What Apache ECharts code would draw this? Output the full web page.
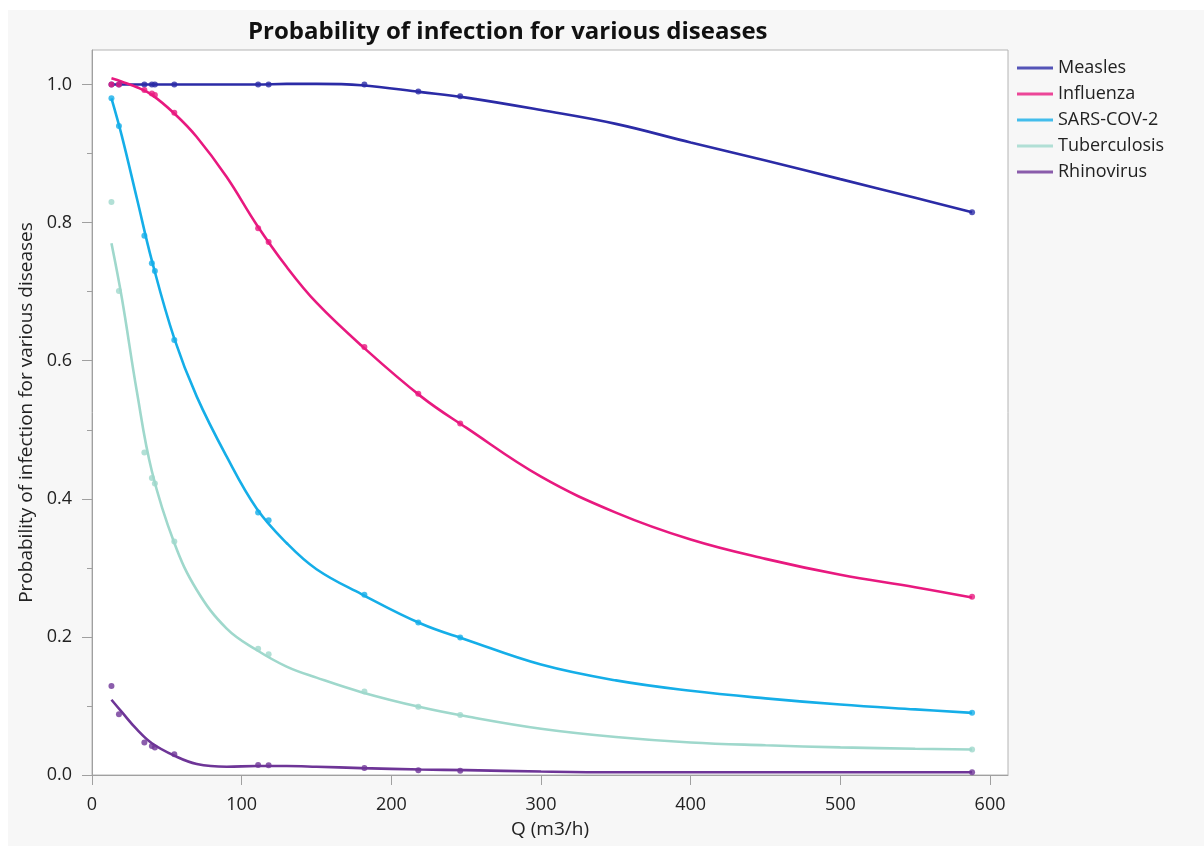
<!DOCTYPE html>
<html>
<head>
<meta charset="utf-8">
<script src="https://cdn.jsdelivr.net/npm/echarts@6/dist/echarts.min.js"></script>
<style>
html,body{margin:0;padding:0;background:#fff;}
#chart{width:1204px;height:846px;}
</style>
</head>
<body>
<div id="chart"></div>
<script>
// ---------- DATA ----------
const seriesNames = ['Measles', 'Influenza', 'SARS-COV-2', 'Tuberculosis', 'Rhinovirus'];
const seriesColors = ['#2b2ba6', '#e8197f', '#15aee8', '#9fd8cc', '#6e3597'];

// observed points
const qPoints = [13, 18, 35, 40, 42, 55, 111, 118, 182, 218, 246, 588];
const measlesPts      = [1.0, 1.0, 1.0, 1.0, 1.0, 1.0, 1.0, 1.0, 1.0, 0.990, 0.983, 0.815];
const influenzaPts    = [1.0, 1.0, 0.992, 0.987, 0.985, 0.959, 0.792, 0.772, 0.620, 0.552, 0.509, 0.258];
const sarsPts         = [0.980, 0.940, 0.781, 0.741, 0.730, 0.630, 0.380, 0.369, 0.261, 0.221, 0.199, 0.090];
const tuberculosisPts = [0.830, 0.701, 0.467, 0.430, 0.422, 0.338, 0.183, 0.175, 0.121, 0.099, 0.087, 0.037];
const rhinovirusPts   = [0.129, 0.088, 0.047, 0.042, 0.040, 0.030, 0.0145, 0.014, 0.010, 0.007, 0.006, 0.004];

// fitted curves
const qCurve = [13, 20, 30, 40, 55, 70, 90, 110, 130, 150, 180, 220, 250, 300, 350, 400, 450, 500, 550, 588];
const measlesFit      = [1.0, 1.0, 1.0, 1.0, 1.0, 1.0, 1.0, 1.0, 1.001, 1.001, 0.999, 0.989, 0.981, 0.963, 0.943, 0.916, 0.890, 0.863, 0.836, 0.815];
const influenzaFit    = [1.009, 1.004, 0.996, 0.985, 0.958, 0.924, 0.866, 0.797, 0.736, 0.684, 0.622, 0.548, 0.503, 0.432, 0.380, 0.341, 0.313, 0.290, 0.272, 0.257];
const sarsFit         = [0.980, 0.925, 0.835, 0.745, 0.632, 0.548, 0.461, 0.386, 0.336, 0.298, 0.262, 0.219, 0.196, 0.160, 0.137, 0.122, 0.111, 0.102, 0.095, 0.090];
const tuberculosisFit = [0.770, 0.690, 0.555, 0.440, 0.336, 0.268, 0.212, 0.181, 0.157, 0.141, 0.120, 0.098, 0.085, 0.067, 0.055, 0.047, 0.043, 0.040, 0.038, 0.037];
const rhinovirusFit   = [0.109, 0.091, 0.066, 0.046, 0.028, 0.016, 0.012, 0.013, 0.013, 0.012, 0.010, 0.008, 0.007, 0.005, 0.004, 0.004, 0.004, 0.004, 0.004, 0.004];

// axis ticks
const xTicks = [0, 100, 200, 300, 400, 500, 600];
const yMajorTicks = [0, 0.2, 0.4, 0.6, 0.8, 1.0];
const yMinorTicks = [0.1, 0.3, 0.5, 0.7, 0.9];

const titleText = 'Probability of infection for various diseases';
const xAxisName = 'Q (m3/h)';
const yAxisName = 'Probability of infection for various diseases';

// ---------- CHART ----------
const pts = [measlesPts, influenzaPts, sarsPts, tuberculosisPts, rhinovirusPts];
const fits = [measlesFit, influenzaFit, sarsFit, tuberculosisFit, rhinovirusFit];
const FONT = 'Open Sans';

const series = [];
seriesNames.forEach((name, i) => {
  series.push({
    name: name,
    type: 'scatter',
    data: qPoints.map((q, k) => [q, pts[i][k]]),
    symbol: 'circle',
    symbolSize: 6,
    itemStyle: { color: seriesColors[i] },
    z: 3,
    silent: true
  });
  series.push({
    name: name,
    type: 'line',
    data: qCurve.map((q, k) => [q, fits[i][k]]),
    smooth: 0.4,
    showSymbol: false,
    lineStyle: { color: seriesColors[i], width: 2.6 },
    itemStyle: { color: seriesColors[i] },
    z: 2,
    silent: true
  });
});

const chart = echarts.init(document.getElementById('chart'), null, { renderer: 'canvas' });
chart.setOption({
  animation: false,
  backgroundColor: '#ffffff',
  graphic: [{
    type: 'rect', left: 8, top: 10, z: -10,
    shape: { width: 1196, height: 836 },
    style: { fill: '#f7f7f7' }
  }],
  title: {
    text: titleText,
    left: 243, top: 15,
    textStyle: { fontFamily: FONT, fontWeight: 'bold', fontSize: 24, color: '#111' }
  },
  legend: {
    orient: 'vertical',
    left: 1012, top: 54,
    itemWidth: 36, itemHeight: 3,
    itemGap: 8,
    icon: 'rect',
    data: seriesNames.map((n, i) => ({ name: n, itemStyle: { color: seriesColors[i] } })),
    textStyle: { fontFamily: FONT, fontSize: 18, color: '#222', lineHeight: 18 }
  },
  grid: {
    left: 92, right: 196, top: 50, bottom: 71,
    show: true, backgroundColor: '#ffffff', borderColor: '#b4b4b4', borderWidth: 1,
    containLabel: false
  },
  xAxis: {
    type: 'value', min: 0, max: 612,
    name: xAxisName, nameLocation: 'middle', nameGap: 45,
    nameTextStyle: { fontFamily: FONT, fontSize: 19, color: '#222' },
    axisLine: { show: true, lineStyle: { color: '#a0a0a0', width: 1 } },
    axisTick: { show: true, customValues: xTicks, length: 10, lineStyle: { color: '#a0a0a0' } },
    axisLabel: { customValues: xTicks, fontFamily: FONT, fontSize: 18, color: '#222', margin: 21 },
    splitLine: { show: false }
  },
  yAxis: [{
    type: 'value', min: 0, max: 1.05, position: 'left',
    name: yAxisName, nameLocation: 'middle', nameGap: 53,
    nameTextStyle: { fontFamily: FONT, fontSize: 19, color: '#222' },
    axisLine: { show: true, lineStyle: { color: '#a0a0a0', width: 1 } },
    axisTick: { show: true, customValues: yMajorTicks, length: 10, lineStyle: { color: '#a0a0a0' } },
    axisLabel: { customValues: yMajorTicks, formatter: v => v.toFixed(1), fontFamily: FONT, fontSize: 18, color: '#222', margin: 20 },
    splitLine: { show: false }
  }, {
    type: 'value', min: 0, max: 1.05, position: 'left', offset: 0,
    axisLine: { show: false },
    axisTick: { show: true, customValues: yMinorTicks, length: 5, lineStyle: { color: '#a0a0a0' } },
    axisLabel: { show: false },
    splitLine: { show: false }
  }],
  series: series
});
</script>
</body>
</html>
